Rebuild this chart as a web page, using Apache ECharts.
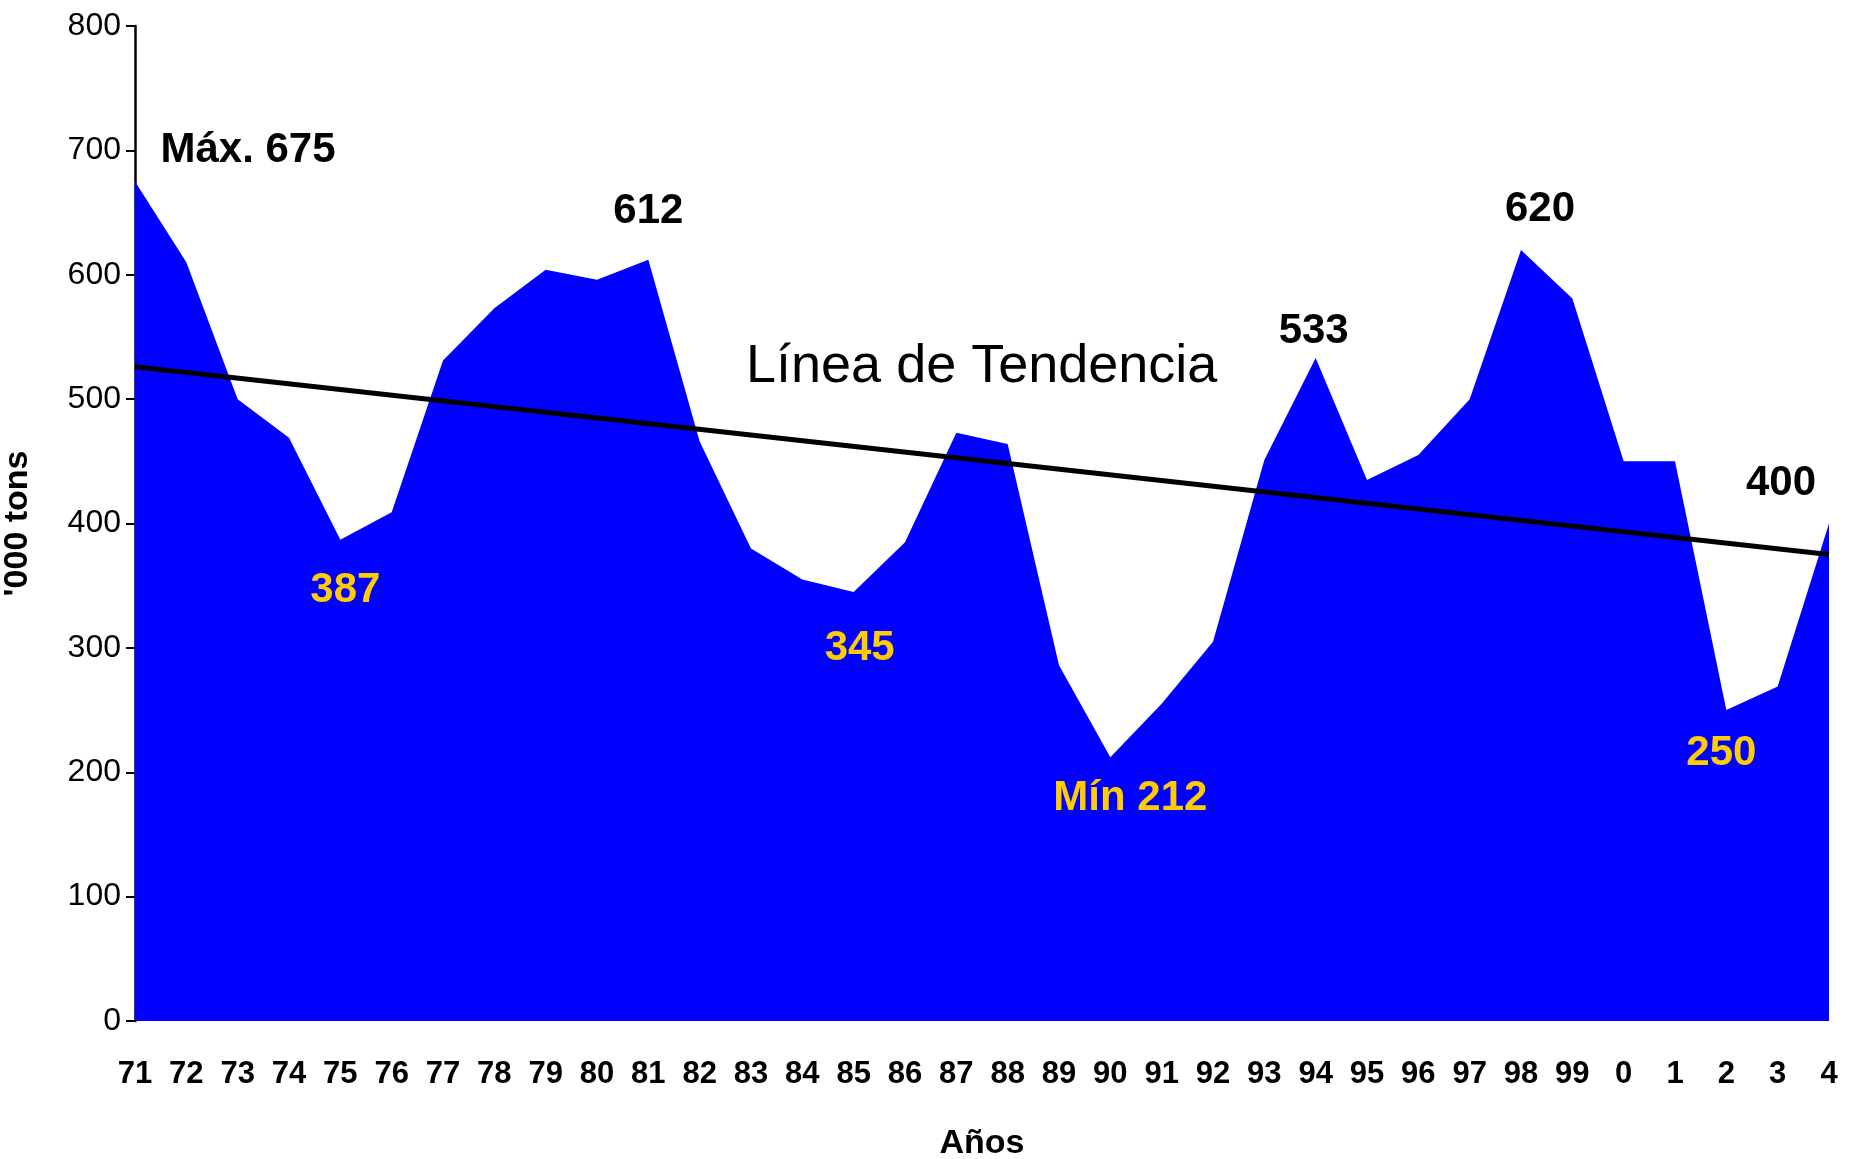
<!DOCTYPE html>
<html>
<head>
<meta charset="utf-8">
<title>Producción</title>
<script src="https://cdn.jsdelivr.net/npm/echarts@6/dist/echarts.min.js"></script>
<style>
  html, body { margin: 0; padding: 0; background: #fff; }
  #chart { width: 1851px; height: 1159px; }
</style>
</head>
<body>
<div id="chart"></div>
<script>
  // años (categorias del eje x)
  var years = ['71', '72', '73', '74', '75', '76', '77', '78', '79', '80',
    '81', '82', '83', '84', '85', '86', '87', '88', '89', '90',
    '91', '92', '93', '94', '95', '96', '97', '98', '99', '0',
    '1', '2', '3', '4'];
  // '000 tons
  var tons = [675, 610, 500, 469, 387, 409, 531, 573, 604, 596,
    612, 466, 380, 355, 345, 385, 473, 464, 286, 212,
    255, 305, 451, 533, 435, 455, 500, 620, 581, 450,
    450, 250, 269, 400];
  // linea de tendencia: valor inicial y final
  var trendStart = 526;
  var trendEnd = 375;
  var yTicks = [0, 100, 200, 300, 400, 500, 600, 700, 800];

  // etiquetas de maximos y minimos
  var notes = [
    { idx: 0, text: 'Máx. 675', color: '#000', off: [113, -31] },
    { idx: 10, text: '612', color: '#000', off: [0, -48] },
    { idx: 4, text: '387', color: '#FFCC00', off: [5, 51] },
    { idx: 14, text: '345', color: '#FFCC00', off: [6, 57] },
    { idx: 19, text: 'Mín 212', color: '#FFCC00', off: [20, 42] },
    { idx: 23, text: '533', color: '#000', off: [-2, -26] },
    { idx: 27, text: '620', color: '#000', off: [19, -40] },
    { idx: 31, text: '250', color: '#FFCC00', off: [-5, 44] },
    { idx: 33, text: '400', color: '#000', off: [-48, -40] }
  ];

  var areaData = tons.map(function (v) { return { value: v }; });
  notes.forEach(function (n) {
    areaData[n.idx].label = {
      show: true,
      formatter: n.text,
      color: n.color,
      offset: n.off
    };
  });

  var trendData = years.map(function () { return null; });
  trendData[0] = trendStart;
  trendData[trendData.length - 1] = trendEnd;

  var chart = echarts.init(document.getElementById('chart'));
  var option = {
    animation: false,
    grid: {
      left: 135,
      right: 22,
      top: 26,
      bottom: 138,
      containLabel: false,
      outerBoundsMode: 'none'
    },
    xAxis: {
      type: 'category',
      data: years,
      boundaryGap: false,
      name: 'Años',
      nameLocation: 'middle',
      nameGap: 106,
      nameTextStyle: {
        fontFamily: '"Liberation Sans Narrow", "Liberation Sans", Arial, sans-serif',
        fontWeight: 'bold',
        fontSize: 34,
        color: '#000'
      },
      axisLine: { show: false },
      axisTick: { show: false },
      axisLabel: {
        interval: 0,
        margin: 38,
        color: '#000',
        fontFamily: '"Liberation Sans Narrow", "Liberation Sans", Arial, sans-serif',
        fontWeight: 'bold',
        fontSize: 31
      },
      splitLine: { show: false }
    },
    yAxis: {
      type: 'value',
      min: yTicks[0],
      max: yTicks[yTicks.length - 1],
      interval: 100,
      name: "'000 tons",
      nameLocation: 'middle',
      nameRotate: 90,
      nameGap: 100,
      nameTextStyle: {
        fontFamily: '"Liberation Sans", Arial, sans-serif',
        fontWeight: 'bold',
        fontSize: 34,
        color: '#000'
      },
      axisLine: { show: true, lineStyle: { color: '#000', width: 2.5 } },
      axisTick: { show: true, inside: false, length: 9, lineStyle: { color: '#000', width: 2 } },
      axisLabel: {
        margin: 14,
        color: '#000',
        fontFamily: '"Liberation Sans Narrow", "Liberation Sans", Arial, sans-serif',
        fontSize: 32
      },
      splitLine: { show: false }
    },
    graphic: [{
      type: 'text',
      left: 983 - 237,
      top: 366 - 26,
      style: {
        text: 'Línea de Tendencia',
        fill: '#000',
        font: '54px "Liberation Sans", Arial, sans-serif'
      }
    }],
    series: [
      {
        name: 'Toneladas',
        type: 'line',
        data: areaData,
        symbol: 'circle',
        symbolSize: 1,
        showSymbol: true,
        itemStyle: { color: 'rgba(0,0,255,0)' },
        lineStyle: { width: 0, color: '#0000FF' },
        areaStyle: { color: '#0000FF', opacity: 1 },
        label: {
          show: false,
          position: 'top',
          distance: 0,
          align: 'center',
          verticalAlign: 'middle',
          fontFamily: '"Liberation Sans", Arial, sans-serif',
          fontWeight: 'bold',
          fontSize: 42
        },
        z: 2
      },
      {
        name: 'Tendencia',
        type: 'line',
        data: trendData,
        connectNulls: true,
        symbol: 'none',
        lineStyle: { color: '#000', width: 5 },
        z: 3
      }
    ]
  };
  chart.setOption(option);
</script>
</body>
</html>
